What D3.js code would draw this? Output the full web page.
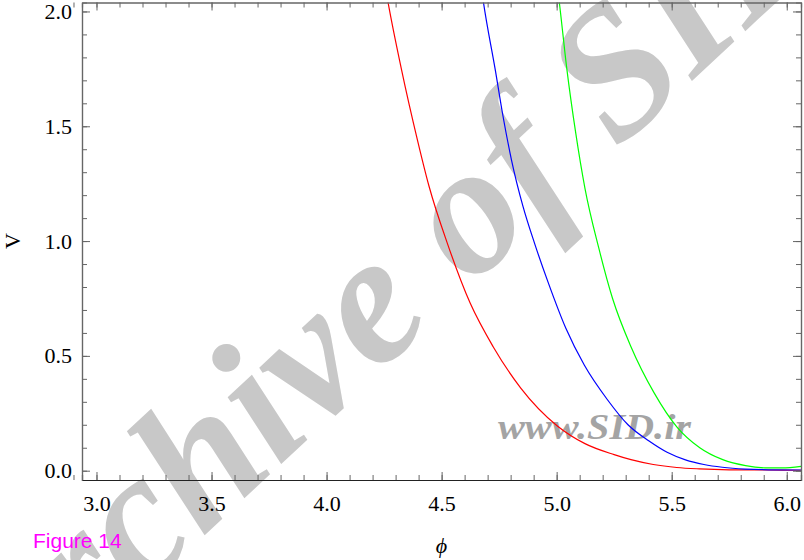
<!DOCTYPE html>
<html>
  <head>
    <style>
      html, body { margin: 0; padding: 0; background: #fff; }
      svg { display: block; }
    </style>
  </head>
  <body>
    <svg width="804" height="560"></svg>
    <script src="https://cdn.jsdelivr.net/npm/d3@7/dist/d3.min.js"></script>
    <script>
      // values
      const phiRed = [4.24, 4.265, 4.325, 4.395, 4.445, 4.525, 4.624, 4.724, 4.844, 5.003, 5.123, 5.25, 5.323, 5.42, 5.522, 5.62, 5.75, 5.9, 6.062];
      const vRed = [2.2, 2.052, 1.75, 1.44, 1.24, 0.99, 0.73, 0.54, 0.36, 0.195, 0.118, 0.07, 0.048, 0.027, 0.014, 0.008, 0.004, 0.003, 0.002];
      const phiBlue = [4.66, 4.68, 4.734, 4.764, 4.804, 4.854, 4.904, 4.963, 5.04, 5.12, 5.22, 5.31, 5.4, 5.48, 5.56, 5.64, 5.72, 5.82, 5.92, 6.062];
      const vBlue = [2.2, 2.052, 1.741, 1.56, 1.352, 1.15, 0.99, 0.82, 0.62, 0.46, 0.31, 0.2, 0.13, 0.08, 0.047, 0.027, 0.015, 0.007, 0.004, 0.003];
      const phiGreen = [4.99, 5.01, 5.043, 5.083, 5.123, 5.183, 5.243, 5.323, 5.423, 5.523, 5.622, 5.722, 5.821, 5.921, 5.98, 6.062];
      const vGreen = [2.2, 2.052, 1.76, 1.47, 1.23, 0.97, 0.75, 0.54, 0.34, 0.19, 0.1, 0.048, 0.022, 0.012, 0.012, 0.019];

      const xTicks = [3.0, 3.5, 4.0, 4.5, 5.0, 5.5, 6.0];
      const yTicks = [0.0, 0.5, 1.0, 1.5, 2.0];

      const series = [
        { name: 'red', color: '#ff0000', phi: phiRed, v: vRed },
        { name: 'blue', color: '#0000ff', phi: phiBlue, v: vBlue },
        { name: 'green', color: '#00ff00', phi: phiGreen, v: vGreen },
      ];
    </script>
    <script>
      const svg = d3.select('svg');
      const plotLeft = 82, plotRight = 801, plotTop = 2.5, plotBottom = 480;

      const x = d3.scaleLinear().domain([2.937, 6.062]).range([plotLeft, plotRight]);
      const y = d3.scaleLinear().domain([-0.0405, 2.039]).range([plotBottom, plotTop]);

      // watermark
      svg.append('text')
        .attr('transform', 'translate(-2,728) rotate(-43)')
        .attr('font-family', 'Liberation Serif, Times New Roman, serif')
        .attr('font-weight', 'bold')
        .attr('font-style', 'italic')
        .attr('font-size', 186)
        .attr('fill', '#c8c8c8')
        .text('Archive of SID');

      svg.append('text')
        .attr('x', 498)
        .attr('y', 439)
        .attr('textLength', 193)
        .attr('lengthAdjust', 'spacingAndGlyphs')
        .attr('font-family', 'Liberation Serif, Times New Roman, serif')
        .attr('font-weight', 'bold')
        .attr('font-style', 'italic')
        .attr('font-size', 36)
        .attr('fill', '#a4a4a4')
        .text('www.SID.ir');

      svg.append('clipPath').attr('id', 'plot-clip')
        .append('rect')
        .attr('x', plotLeft).attr('y', plotTop)
        .attr('width', plotRight - plotLeft).attr('height', plotBottom - plotTop);

      const line = d3.line()
        .x((d) => x(d[0]))
        .y((d) => y(d[1]))
        .curve(d3.curveMonotoneX);

      svg.append('g')
        .attr('clip-path', 'url(#plot-clip)')
        .selectAll('path')
        .data(series)
        .join('path')
        .attr('fill', 'none')
        .attr('stroke', (d) => d.color)
        .attr('stroke-width', 1.2)
        .attr('d', (d) => line(d.phi.map((p, i) => [p, d.v[i]])));

      // frame ticks
      const minorX = d3.range(29, 61).map((k) => k / 10);
      const minorY = d3.range(0, 21).map((k) => k / 10);
      const tickFont = 'Liberation Serif, Times New Roman, serif';

      function styleAxis(g, color) {
        g.selectAll('line').attr('stroke', '#666').attr('stroke-width', 1);
        g.selectAll('path').attr('stroke', color).attr('stroke-width', 1.2);
        g.selectAll('text')
          .attr('font-family', tickFont)
          .attr('font-size', 22)
          .attr('fill', '#000');
      }

      // minor ticks first
      svg.append('g').attr('transform', `translate(0,${plotBottom})`)
        .call(d3.axisBottom(x).tickValues(minorX).tickSize(-5).tickFormat(''))
        .call((g) => styleAxis(g, '#222'));
      svg.append('g').attr('transform', `translate(0,${plotTop})`)
        .call(d3.axisTop(x).tickValues(minorX).tickSize(-5).tickFormat(''))
        .call((g) => styleAxis(g, '#666'));
      svg.append('g').attr('transform', `translate(${plotLeft},0)`)
        .call(d3.axisLeft(y).tickValues(minorY).tickSize(-5).tickFormat(''))
        .call((g) => styleAxis(g, '#666'));
      svg.append('g').attr('transform', `translate(${plotRight},0)`)
        .call(d3.axisRight(y).tickValues(minorY).tickSize(-5).tickFormat(''))
        .call((g) => styleAxis(g, '#666'));

      // major ticks
      svg.append('g').attr('transform', `translate(0,${plotBottom})`)
        .call(d3.axisBottom(x).tickValues(xTicks).tickSizeInner(-8).tickSizeOuter(0)
          .tickPadding(15).tickFormat(d3.format('.1f')))
        .call((g) => styleAxis(g, '#222'));
      svg.append('g').attr('transform', `translate(0,${plotTop})`)
        .call(d3.axisTop(x).tickValues(xTicks).tickSizeInner(-8).tickSizeOuter(0).tickFormat(''))
        .call((g) => styleAxis(g, '#666'));
      svg.append('g').attr('transform', `translate(${plotLeft},0)`)
        .call(d3.axisLeft(y).tickValues(yTicks).tickSizeInner(-8).tickSizeOuter(0)
          .tickPadding(10).tickFormat(d3.format('.1f')))
        .call((g) => styleAxis(g, '#666'));
      svg.append('g').attr('transform', `translate(${plotRight},0)`)
        .call(d3.axisRight(y).tickValues(yTicks).tickSizeInner(-8).tickSizeOuter(0).tickFormat(''))
        .call((g) => styleAxis(g, '#666'));

      // axis labels
      svg.append('text')
        .attr('x', (plotLeft + plotRight) / 2)
        .attr('y', 553)
        .attr('text-anchor', 'middle')
        .attr('font-family', tickFont)
        .attr('font-style', 'italic')
        .attr('font-size', 22)
        .text('\u03d5');

      svg.append('text')
        .attr('transform', 'translate(20,241) rotate(-90)')
        .attr('text-anchor', 'middle')
        .attr('font-family', tickFont)
        .attr('font-size', 22)
        .text('V');

      svg.append('text')
        .attr('x', 33)
        .attr('y', 548)
        .attr('font-family', 'Liberation Sans, Arial, sans-serif')
        .attr('font-size', 21)
        .attr('fill', '#ff00ff')
        .text('Figure 14');
    </script>
  </body>
</html>
